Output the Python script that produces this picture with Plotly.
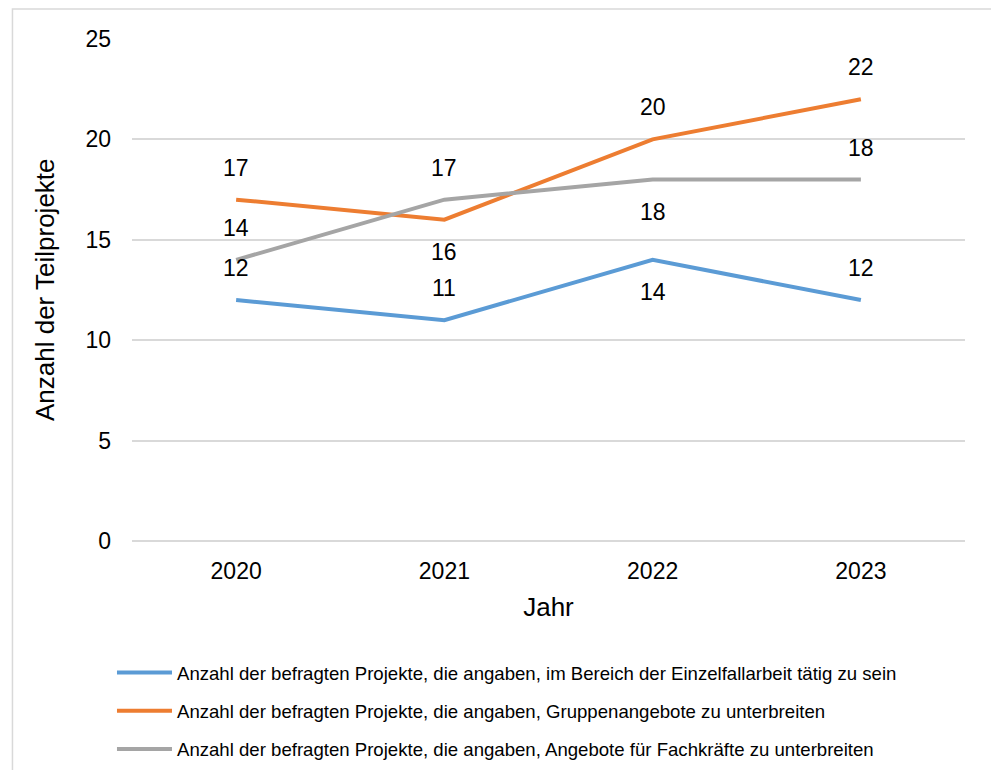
import plotly.graph_objects as go

years = ["2020", "2021", "2022", "2023"]
einzelfall = [12, 11, 14, 12]
gruppen = [17, 16, 20, 22]
fachkraefte = [14, 17, 18, 18]

names = [
    "Anzahl der befragten Projekte, die angaben, im Bereich der Einzelfallarbeit tätig zu sein",
    "Anzahl der befragten Projekte, die angaben, Gruppenangebote zu unterbreiten",
    "Anzahl der befragten Projekte, die angaben, Angebote für Fachkräfte zu unterbreiten",
]
colors = ["#5B9BD5", "#ED7D31", "#A5A5A5"]
# label side per point: +1 above, -1 below
label_side = [
    [1, 1, -1, 1],
    [1, -1, 1, 1],
    [1, 1, -1, 1],
]

series = [einzelfall, gruppen, fachkraefte]
FONT = "Arial, Liberation Sans, sans-serif"

fig = go.Figure()
for i, (vals, name, col) in enumerate(zip(series, names, colors)):
    fig.add_trace(go.Scatter(
        x=years, y=vals, mode="lines", name=name,
        line=dict(color=col, width=4), legendgroup=f"g{i}",
    ))

annotations = []
for vals, sides in zip(series, label_side):
    for idx, (v, s) in enumerate(zip(vals, sides)):
        annotations.append(dict(
            x=idx, y=v, xref="x", yref="y", text=str(v), showarrow=False,
            yshift=32 * s, font=dict(family=FONT, size=23, color="#000000"),
        ))
# y-axis title
annotations.append(dict(
    x=-0.1044, y=0.5, xref="paper", yref="paper", text="Anzahl der Teilprojekte",
    textangle=-90, showarrow=False, xanchor="center", yanchor="middle",
    font=dict(family=FONT, size=26, color="#000000"),
))

fig.update_layout(
    width=991, height=770,
    margin=dict(l=132, r=26, t=39, b=229, autoexpand=False),
    paper_bgcolor="white", plot_bgcolor="white",
    font=dict(family=FONT, color="#000000"),
    showlegend=True,
    legend=dict(
        xref="container", yref="container",
        x=0.113, xanchor="left", y=1 - 654 / 770, yanchor="top",
        font=dict(family=FONT, size=18.6, color="#000000"),
        itemwidth=55, tracegroupgap=11, bgcolor="rgba(0,0,0,0)",
    ),
    annotations=annotations,
    shapes=[dict(type="rect", xref="paper", yref="paper",
                 x0=-0.1435, x1=1.05, y0=-0.5, y1=1.0597,
                 line=dict(color="#D9D9D9", width=1.5), fillcolor="rgba(0,0,0,0)",
                 layer="below")],
)
fig.update_xaxes(
    type="category", range=[-0.5, 3.5], showgrid=False, showline=False,
    zeroline=False, tickfont=dict(size=23), ticklabelstandoff=14,
    title=dict(text="Jahr", font=dict(size=26), standoff=14),
)
fig.update_yaxes(
    range=[0, 25], dtick=5, showgrid=True, gridcolor="#D9D9D9", gridwidth=1.5,
    zeroline=True, zerolinecolor="#D9D9D9", zerolinewidth=1.5, showline=False,
    tickfont=dict(size=23), ticklabelstandoff=20,
)
fig.write_html("out.html")
